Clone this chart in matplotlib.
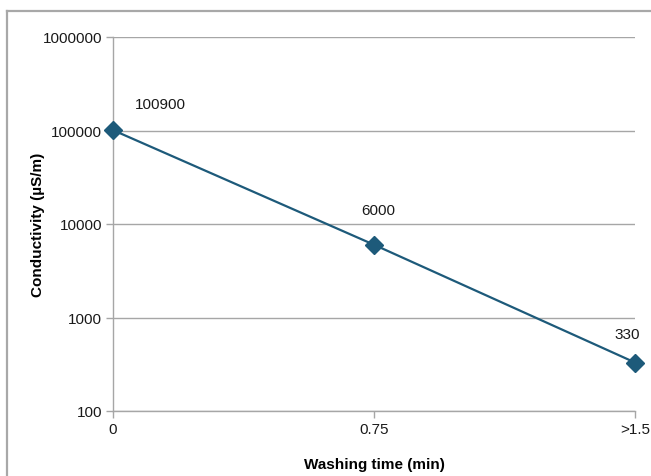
import matplotlib
matplotlib.use("Agg")
from matplotlib import pyplot as plt
from matplotlib.lines import Line2D

plt.rcParams['font.family'] = ['Liberation Sans', 'DejaVu Sans']

# data
times = ["0", "0.75", ">1.5"]
conductivity = [100900, 6000, 330]
labels = ["100900", "6000", "330"]
ytick_vals = [100, 1000, 10000, 100000, 1000000]

W, H = 651, 477
fig = plt.figure(figsize=(W / 100, H / 100), dpi=100)
ax = fig.add_axes([113 / W, 1 - 412 / H, (635 - 113) / W, (412 - 38) / H])

grid_c = '#A6A6A6'
line_c = '#1D5A7A'

x = list(range(len(times)))
ax.plot(x, conductivity, color=line_c, lw=1.6, marker='D', markersize=9.5,
        markerfacecolor=line_c, markeredgecolor=line_c, zorder=3, clip_on=False)

# data labels (offsets in pixels)
offs = [(47, 26), (4, 35), (-8, 29)]
for xi, v, t, o in zip(x, conductivity, labels, offs):
    ax.annotate(t, (xi, v), xytext=o, textcoords='offset pixels',
                ha='center', va='center', fontsize=11, color='#1a1a1a')

ax.set_yscale('log')
ax.set_ylim(100, 1000000)
ax.set_xlim(0, len(times) - 1)
ax.set_yticks(ytick_vals)
ax.set_yticklabels([str(v) for v in ytick_vals])
ax.yaxis.set_minor_locator(matplotlib.ticker.NullLocator())
ax.set_xticks(x)
ax.set_xticklabels(times)

ax.grid(axis='y', color=grid_c, lw=1)
ax.set_axisbelow(True)
for s in ['top', 'right']:
    ax.spines[s].set_visible(False)
for s in ['left', 'bottom']:
    ax.spines[s].set_color(grid_c)
    ax.spines[s].set_linewidth(1)
ax.tick_params(axis='both', colors=grid_c, length=5, width=1, labelsize=11,
               labelcolor='#1a1a1a', pad=3)

ax.set_ylabel('Conductivity (µS/m)', fontsize=11, fontweight='bold', labelpad=-2)
ax.set_xlabel('Washing time (min)', fontsize=11, fontweight='bold', labelpad=15)

# outer frame (top and left edges)
fig.add_artist(Line2D([7 / W, 1], [1 - 12 / H, 1 - 12 / H], color='#A8A8A8', lw=1.6,
                      transform=fig.transFigure))
fig.add_artist(Line2D([7 / W, 7 / W], [0, 1 - 12 / H], color='#A8A8A8', lw=1.6,
                      transform=fig.transFigure))

plt.savefig("out.png", dpi=100)
